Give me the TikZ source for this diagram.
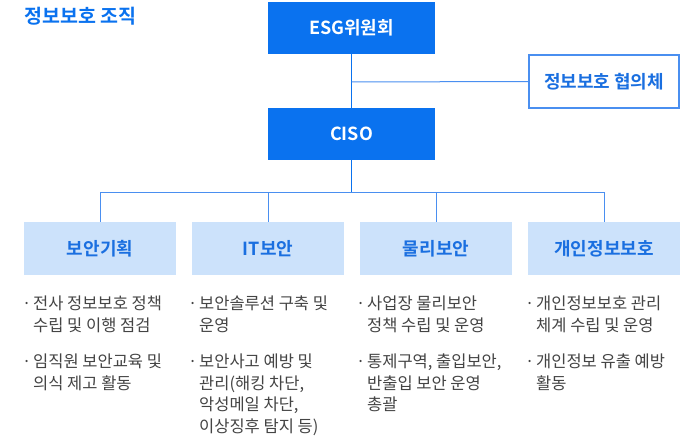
\documentclass[tikz,border=0pt]{standalone}
\usepackage{fontspec}
\setmainfont{Noto Sans CJK KR}
\newfontfamily\krbold{Noto Sans CJK KR Bold}
\definecolor{mainblue}{HTML}{0A72EF}
\definecolor{lineblue}{HTML}{4A8FF0}
\definecolor{lightbox}{HTML}{CCE2FB}
\definecolor{labelblue}{HTML}{1A6FE0}
\definecolor{bodygray}{HTML}{444444}
\tikzset{
  topbox/.style={fill=mainblue, draw=none, minimum width=167pt, minimum height=52pt, inner sep=0pt, text=white, font=\krbold\fontsize{18}{21}\selectfont},
  subbox/.style={fill=lightbox, draw=none, minimum width=152pt, minimum height=53pt, inner sep=0pt, text=labelblue, font=\krbold\fontsize{18}{21}\selectfont},
  sidebox/.style={fill=white, draw=lineblue, line width=1.2pt, minimum width=150pt, minimum height=53pt, inner sep=0pt, text=labelblue, font=\krbold\fontsize{18}{21}\selectfont},
  conn/.style={draw=lineblue, line width=1pt},
  mainconn/.style={draw=mainblue, line width=1pt},
  item/.style={anchor=north west, inner sep=0pt, align=left, text=bodygray, font=\fontsize{16.5}{21.5}\selectfont},
}
\newcommand{\bul}{\makebox[11pt][l]{·}}
\newcommand{\ind}{\hspace*{11pt}}
\begin{document}
\begin{tikzpicture}[x=1pt,y=-1pt]
\useasboundingbox[fill=white] (0,0) rectangle (692,441);
\node[anchor=west, inner sep=0pt, text=mainblue, font=\krbold\fontsize{19.5}{22}\selectfont] (title) at (24,16) {정보보호 조직};
\node[topbox] (esg) at (351.5,28) {ESG위원회};
\node[topbox] (ciso) at (351.5,134) {CISO};
\node[sidebox] (council) at (604,81.5) {정보보호 협의체};
\coordinate (mid) at (351.5,82);
\coordinate (hub) at (351.5,192);
\node[subbox] (b1) at (100,248.5) {보안기획};
\node[subbox] (b2) at (268,248.5) {IT보안};
\node[subbox] (b3) at (436,248.5) {물리보안};
\node[subbox] (b4) at (604,248.5) {개인정보보호};
\draw[mainconn] (esg.south) -- (ciso.north);
\draw[conn] (mid) -- (council.west);
\draw[mainconn] (ciso.south) -- (hub);
\draw[conn] (b1.north) -- (b1.north |- hub) -- (b4.north |- hub) -- (b4.north);
\draw[conn] (b2.north) -- (b2.north |- hub);
\draw[conn] (b3.north) -- (b3.north |- hub);
\node[item] (t11) at (22,296) {\bul 전사 정보보호 정책\\\ind 수립 및 이행 점검};
\node[item] (t12) at (22,354) {\bul 임직원 보안교육 및\\\ind 의식 제고 활동};
\node[item] (t21) at (188,296) {\bul 보안솔루션 구축 및\\\ind 운영};
\node[item] (t22) at (188,354) {\bul 보안사고 예방 및\\\ind 관리(해킹 차단,\\\ind 악성메일 차단,\\\ind 이상징후 탐지 등)};
\node[item] (t31) at (356,296) {\bul 사업장 물리보안\\\ind 정책 수립 및 운영};
\node[item] (t32) at (356,354) {\bul 통제구역, 출입보안,\\\ind 반출입 보안 운영\\\ind 총괄};
\node[item] (t41) at (525,296) {\bul 개인정보보호 관리\\\ind 체계 수립 및 운영};
\node[item] (t42) at (525,354) {\bul 개인정보 유출 예방\\\ind 활동};
\end{tikzpicture}
\end{document}
